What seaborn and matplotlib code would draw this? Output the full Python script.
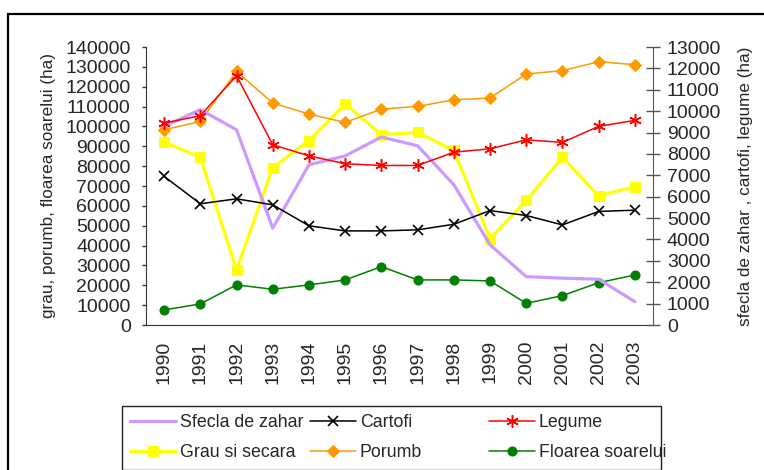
import pandas as pd
import seaborn as sns
import matplotlib
matplotlib.use('Agg')
import matplotlib.pyplot as plt
from matplotlib.patches import Rectangle

# Datele (ha)
anos = [1990, 1991, 1992, 1993, 1994, 1995, 1996, 1997, 1998, 1999, 2000, 2001, 2002, 2003]
anos_text = [str(a) for a in anos]

# axa din dreapta
sfecla = [9290, 10070, 9130, 4530, 7490, 7910, 8790, 8380, 6560, 3750, 2260, 2190, 2140, 1090]
cartofi = [6950, 5670, 5900, 5620, 4640, 4400, 4400, 4450, 4710, 5350, 5120, 4680, 5310, 5370]
legume = [9440, 9790, 11660, 8430, 7910, 7540, 7460, 7460, 8080, 8240, 8660, 8540, 9290, 9570]

# axa din stanga
grau = [92000, 84500, 27700, 79200, 92900, 111400, 95800, 97000, 87900, 43500, 62700, 84500, 65000, 69700]
porumb = [98300, 102500, 127700, 111800, 106200, 102000, 108700, 110100, 113400, 114300, 126400, 128100, 132600, 131100]
floarea = [7600, 10600, 20200, 18000, 20200, 22700, 29400, 22700, 22700, 22200, 10900, 14800, 21300, 25200]

df = pd.DataFrame({'An': anos, 'Sfecla de zahar': sfecla, 'Cartofi': cartofi, 'Legume': legume,
                   'Grau si secara': grau, 'Porumb': porumb, 'Floarea soarelui': floarea})

sns.set_style('white')
plt.rcParams['font.family'] = ['Liberation Sans', 'DejaVu Sans']

fig = plt.figure(figsize=(7.64, 4.70), dpi=100)
ax = fig.add_axes([146 / 764, (470 - 325) / 470, (653 - 146) / 764, (325 - 47) / 470])
ax2 = ax.twinx()

# stanga: grau, porumb, floarea soarelui
sns.lineplot(data=df, x='An', y='Grau si secara', ax=ax, color='#FFFF00', lw=2.3,
             marker='s', ms=7, mec='#FFFF00', label='Grau si secara')
sns.lineplot(data=df, x='An', y='Porumb', ax=ax, color='#FF9900', lw=1.1,
             marker='D', ms=6.5, mec='#FF9900', label='Porumb')
sns.lineplot(data=df, x='An', y='Floarea soarelui', ax=ax, color='#008000', lw=1.1,
             marker='o', ms=6.5, mec='#008000', label='Floarea soarelui')

# dreapta: sfecla, cartofi, legume
sns.lineplot(data=df, x='An', y='Sfecla de zahar', ax=ax2, color='#CC99FF', lw=2.3,
             label='Sfecla de zahar')
sns.lineplot(data=df, x='An', y='Cartofi', ax=ax2, color='black', lw=1.1,
             marker='x', ms=7.5, mew=1.2, mec='black', label='Cartofi')
sns.lineplot(data=df, x='An', y='Legume', ax=ax2, color='#FF0000', lw=1.1,
             marker=(6, 2, 0), ms=9, mew=1.1, mec='#FF0000', label='Legume')

for a in (ax, ax2):
    if a.get_legend() is not None:
        a.get_legend().remove()

# axe
ax.set_xlim(anos[0] - 0.5, anos[-1] + 0.5)
ax.set_ylim(0, 140000)
ax2.set_ylim(0, 13000)
ax.set_yticks(range(0, 140001, 10000))
ax2.set_yticks(range(0, 13001, 1000))
ax.set_xticks(anos)
ax.set_xticklabels(anos_text, rotation=90)
ax.set_xticks([a - 0.5 for a in anos] + [anos[-1] + 0.5], minor=True)

ax.tick_params(axis='x', which='major', length=0, pad=11, labelsize=14)
ax.tick_params(axis='x', which='minor', length=6, width=1, color='#333333', direction='out')
ax.tick_params(axis='y', length=3, width=1, color='#333333', direction='out', pad=8, labelsize=14, left=True)
ax2.tick_params(axis='y', length=10, width=1, color='#555555', direction='inout', pad=5, labelsize=14, right=True)

ax.set_xlabel('')
ax.set_ylabel('grau, porumb, floarea soarelui (ha)', fontsize=12.3, labelpad=7)
ax2.set_ylabel('sfecla de zahar , cartofi, legume (ha)', fontsize=12.3, labelpad=12)

for a in (ax, ax2):
    a.spines['top'].set_visible(False)
    a.spines['left'].set_color('#333333')
    a.spines['bottom'].set_color('#333333')
    a.spines['right'].set_color('#555555')
ax.spines['right'].set_visible(False)
ax2.spines['left'].set_visible(False)
ax2.spines['bottom'].set_visible(False)

# legenda in trei coloane, cu chenar
linhas = {l.get_label(): l for l in ax.get_lines() + ax2.get_lines()}
colunas = [['Sfecla de zahar', 'Grau si secara'], ['Cartofi', 'Porumb'], ['Legume', 'Floarea soarelui']]
xs = [122, 302, 481]
for x, nomes in zip(xs, colunas):
    leg = fig.legend([linhas[n] for n in nomes], nomes, loc='upper left',
                     bbox_to_anchor=(x / 764, 1 - 406 / 470), frameon=False, fontsize=12.8,
                     handlelength=2.6, handletextpad=0.2, labelspacing=0.75, borderaxespad=0,
                     borderpad=0.45, numpoints=1)
fig.patches.append(Rectangle((122 / 764, 1 - 470 / 470), (661 - 122) / 764, (470 - 406) / 470,
                             transform=fig.transFigure, fill=False, lw=1, ec='#222222'))

# chenarul exterior
fig.patches.append(Rectangle((8 / 764, -0.1), 1.5, 1 - 14 / 470 + 0.1,
                             transform=fig.transFigure, fill=False, lw=1.6, ec='black'))

plt.savefig('out.png', dpi=100)
